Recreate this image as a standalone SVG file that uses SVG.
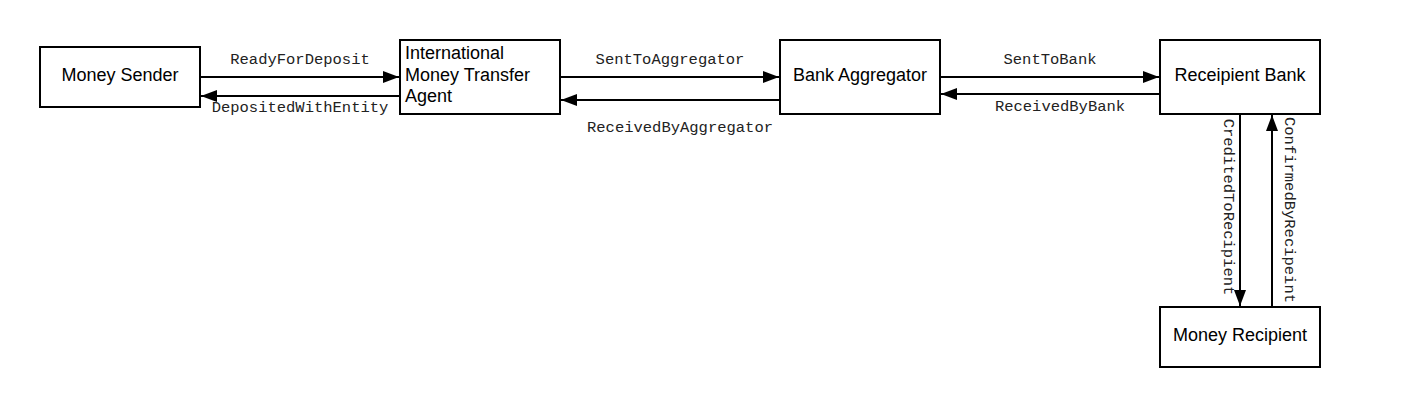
<svg xmlns="http://www.w3.org/2000/svg" width="1420" height="407" viewBox="0 0 1420 407">
<style>
.node rect{fill:#fff;stroke:#000;stroke-width:2}
.node text{font-family:"Liberation Sans",Arial,sans-serif;font-size:18px;fill:#000}
.edge line{stroke:#000;stroke-width:2}
.lbl{font-family:"Liberation Mono","DejaVu Sans Mono",monospace;font-size:15.5px;fill:#222;text-anchor:middle}
</style>
<defs>
<marker id="ah" viewBox="0 0 16 12" refX="16" refY="6" markerWidth="16" markerHeight="12" markerUnits="userSpaceOnUse" orient="auto">
<path d="M0,0 L16,6 L0,12 Z" fill="#000"/>
</marker>
</defs>
<rect width="1420" height="407" fill="#fff"/>
<g id="connectors" class="edge">
<line x1="201" y1="77" x2="399" y2="77" marker-end="url(#ah)"/>
<line x1="399" y1="96" x2="201" y2="96" marker-end="url(#ah)"/>
<line x1="561" y1="77" x2="779" y2="77" marker-end="url(#ah)"/>
<line x1="779" y1="100" x2="561" y2="100" marker-end="url(#ah)"/>
<line x1="941" y1="77" x2="1159" y2="77" marker-end="url(#ah)"/>
<line x1="1159" y1="94" x2="941" y2="94" marker-end="url(#ah)"/>
<line x1="1240" y1="115" x2="1240" y2="306" marker-end="url(#ah)"/>
<line x1="1272" y1="306" x2="1272" y2="115" marker-end="url(#ah)"/>
<text class="lbl" x="300" y="64">ReadyForDeposit</text>
<text class="lbl" x="300" y="112">DepositedWithEntity</text>
<text class="lbl" x="670" y="64">SentToAggregator</text>
<text class="lbl" x="680" y="132">ReceivedByAggregator</text>
<text class="lbl" x="1050" y="64">SentToBank</text>
<text class="lbl" x="1060" y="111">ReceivedByBank</text>
<text class="lbl" transform="translate(1224,207) rotate(90)">CreditedToRecipient</text>
<text class="lbl" transform="translate(1285,210) rotate(90)">ConfirmedByRecipeint</text>
</g>
<g id="money-sender" class="node">
<rect x="40" y="47" width="160" height="60"/>
<text x="120" y="81" text-anchor="middle">Money Sender</text>
</g>
<g id="imta" class="node">
<rect x="400" y="40" width="160" height="74"/>
<text x="405" y="59">International</text>
<text x="405" y="81">Money Transfer</text>
<text x="405" y="102">Agent</text>
</g>
<g id="bank-aggregator" class="node">
<rect x="780" y="40" width="160" height="74"/>
<text x="860" y="81" text-anchor="middle">Bank Aggregator</text>
</g>
<g id="receipient-bank" class="node">
<rect x="1160" y="40" width="160" height="74"/>
<text x="1240" y="81" text-anchor="middle">Receipient Bank</text>
</g>
<g id="money-recipient" class="node">
<rect x="1160" y="307" width="160" height="60"/>
<text x="1240" y="341" text-anchor="middle">Money Recipient</text>
</g>
</svg>
